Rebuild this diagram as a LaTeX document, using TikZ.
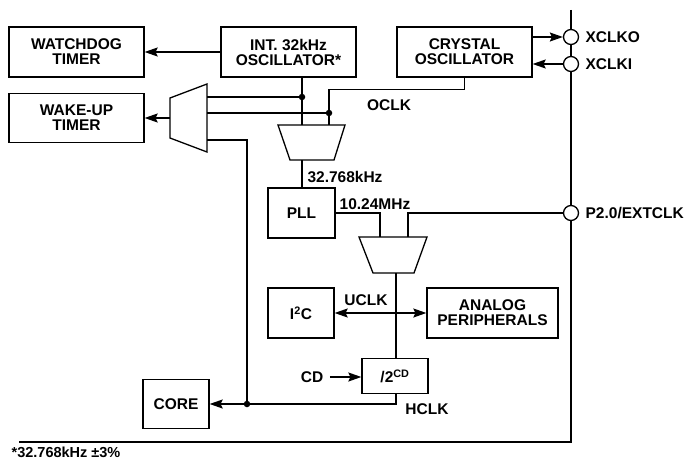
\documentclass[tikz,border=0pt]{standalone}
\usepackage{fontspec}
\setmainfont{Liberation Sans}
\usetikzlibrary{arrows.meta}

\tikzset{
  blk/.style={draw,line width=1.3pt,fill=white,inner sep=0pt,align=center},
  lbl/.style={inner sep=0pt},
  pin/.style={draw,circle,line width=1.3pt,fill=white,minimum size=15pt,inner sep=0pt},
  arr/.style={-{Stealth[length=13pt,width=9pt,inset=2pt]}},
  dot/.style={circle,fill,inner sep=0pt,minimum size=6.5pt}
}

\begin{document}
\begin{tikzpicture}[x=1pt,y=-1pt,line width=1.3pt,line cap=butt,line join=miter,
  font=\fontsize{15.5}{15}\selectfont\bfseries]
  \useasboundingbox (0,0) rectangle (685,460);
  % blocks
  \node[blk,minimum width=135pt,minimum height=50pt] (wdt) at (76.5,52) {WATCHDOG\\TIMER};
  \node[blk,minimum width=135pt,minimum height=50pt] (osc) at (288.5,52) {INT. 32kHz\\OSCILLATOR*};
  \node[blk,minimum width=135pt,minimum height=50pt] (xtal) at (464.5,52) {CRYSTAL\\OSCILLATOR};
  \node[blk,minimum width=135pt,minimum height=49pt] (wut) at (76.5,118) {WAKE-UP\\TIMER};
  \node[blk,minimum width=67pt,minimum height=50pt] (pll) at (301.5,213) {PLL};
  \node[blk,minimum width=66pt,minimum height=50pt] (i2c) at (301,313) {I\textsuperscript{2}C};
  \node[blk,minimum width=131pt,minimum height=50pt] (ana) at (492.5,313) {ANALOG\\PERIPHERALS};
  \node[blk,minimum width=66pt,minimum height=35pt] (div) at (395,376) {/2\textsuperscript{CD}};
  \node[blk,minimum width=66pt,minimum height=49pt] (core) at (176,404) {CORE};
  % chip edge
  \draw[line width=2.2pt] (571,10) -- (571,442) -- (19,442);
  \node[pin] (xo) at (571,37) {};
  \node[pin] (xi) at (571,64) {};
  \node[pin] (p20) at (571,213) {};
  \node[lbl,anchor=west] at (585,37) {XCLKO};
  \node[lbl,anchor=west] at (585,64) {XCLKI};
  \node[lbl,anchor=west] at (585,213) {P2.0/EXTCLK};
  % multiplexers
  \draw (170,98) -- (207,84) -- (207,152) -- (170,138) -- cycle;
  \draw (278,125) -- (345,125) -- (334,160) -- (290,160) -- cycle;
  \draw (359,237) -- (427,237) -- (414,273) -- (373,273) -- cycle;
  \coordinate (m1o) at (170,118);
  \coordinate (m1a) at (207,97);
  \coordinate (m1b) at (207,113);
  \coordinate (m1c) at (207,140);
  \coordinate (m2a) at (302,125);
  \coordinate (m2b) at (329,125);
  \coordinate (m2o) at (302,160);
  \coordinate (m3a) at (380,237);
  \coordinate (m3b) at (408,237);
  \coordinate (m3o) at (396,273);
  \node[dot] (j1) at (302,97) {};
  \node[dot] (j2) at (329,113) {};
  \node[dot] (j3) at (247,404) {};
  % connections
  \draw[arr] (osc.west) -- (wdt.east);
  \draw[arr] (m1o) -- (wut.east);
  \draw[arr] (xtal.east |- xo) -- (xo.west);
  \draw[arr] (xi.west) -- (xtal.east |- xi);
  \draw (j1 |- osc.south) -- (m2a);
  \draw (m1a) -- (j1.center);
  \draw (m1b) -- (j2.center);
  \draw (xtal.south) -- ++(0,12) -| (m2b);
  \draw (m2o) -- (m2o |- pll.north);
  \draw (pll.east) -| (m3a);
  \draw (m3b) |- (p20.west);
  \draw (m3o) -- (m3o |- div.north);
  \draw[arr] (div.south -| m3o) |- (core.east);
  \draw (m1c) -| (j3.center);
  \draw[{Stealth[length=13pt,width=9pt,inset=2pt]}-{Stealth[length=13pt,width=9pt,inset=2pt]}] (i2c.east) -- (ana.west);
  \node[lbl] (cd) at (312,377) {CD};
  \draw[arr] (cd.east) ++(6,0) -- (div.west |- cd);
  % labels
  \node[lbl] at (389,105) {OCLK};
  \node[lbl] at (345,177) {32.768kHz};
  \node[lbl] at (375,204) {10.24MHz};
  \node[lbl] at (366,300) {UCLK};
  \node[lbl] at (427,409) {HCLK};
  \node[lbl,anchor=north west,font=\fontsize{14.5}{14}\selectfont\bfseries] at (11,446) {*32.768kHz ±3\%};
\end{tikzpicture}
\end{document}
